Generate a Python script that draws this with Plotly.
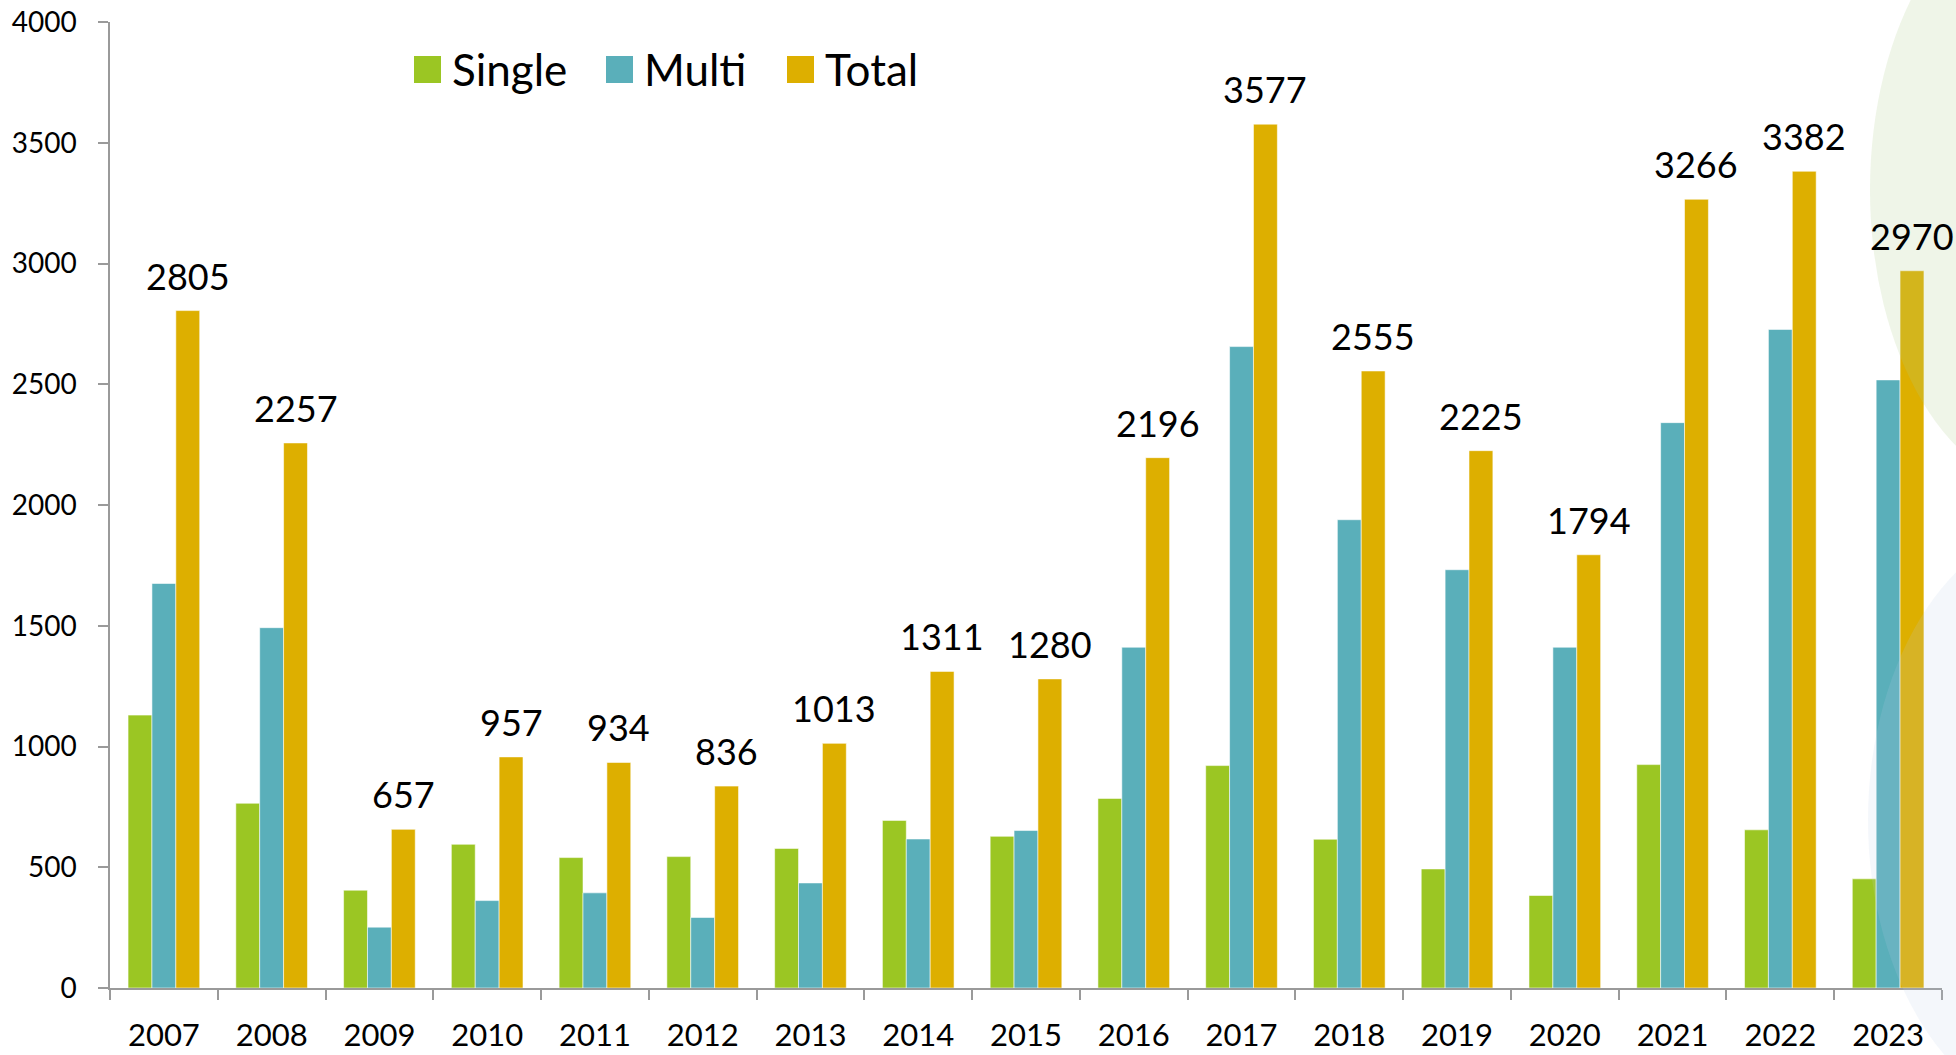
import plotly.graph_objects as go

# ---- data ----
years = [str(y) for y in range(2007, 2024)]
single = [1130, 765, 405, 595, 540, 544, 578, 694, 628, 785, 921, 616, 493, 383, 925, 655, 452]
multi = [1675, 1492, 252, 362, 394, 292, 435, 617, 652, 1411, 2656, 1939, 1732, 1411, 2341, 2727, 2518]
total = [2805, 2257, 657, 957, 934, 836, 1013, 1311, 1280, 2196, 3577, 2555, 2225, 1794, 3266, 3382, 2970]
series_names = ["Single", "Multi", "Total"]
series_values = [single, multi, total]
series_colors = ["#9bc623", "#5aafba", "#ddaf00"]

# ---- layout geometry (pixels) ----
W, H = 1956, 1055
L, R, T, B = 110, 14, 22, 67
PW, PH = W - L - R, H - T - B
BARGAP = 0.335
FONT = "Lato, 'Open Sans', sans-serif"


def px(x, y):
    return (x - L) / PW, (H - B - y) / PH


fig = go.Figure()
for name, vals, col in zip(series_names, series_values, series_colors):
    fig.add_trace(go.Bar(
        x=years, y=vals, name=name, marker_color=col,
        marker_line=dict(color="rgba(255,255,255,0.55)", width=1),
        showlegend=False,
    ))

# total labels above the Total bars (x given as category index)
bar_w = PW / len(years) * (1 - BARGAP) / 3
annotations = []
for i, v in enumerate(total):
    annotations.append(dict(
        x=i, y=v, xref="x", yref="y", text=str(v), showarrow=False,
        xshift=bar_w, yanchor="bottom", yshift=11,
        font=dict(family=FONT, size=36, color="#000000"),
    ))

# manual legend (large square swatches)
shapes = []
legend_px = [414, 606, 787]
for name, col, lx in zip(series_names, series_colors, legend_px):
    x0, y0 = px(lx, 56)
    x1, y1 = px(lx + 27, 83)
    shapes.append(dict(type="rect", xref="paper", yref="paper",
                       x0=x0, x1=x1, y0=y1, y1=y0, fillcolor=col,
                       line=dict(width=0), layer="above"))
    tx, ty = px(lx + 36, 69)
    annotations.append(dict(x=tx, y=ty, xref="paper", yref="paper", text=name,
                            showarrow=False, xanchor="left", yanchor="middle",
                            font=dict(family=FONT, size=44, color="#000000")))

# decorative pale blobs on the right edge
gx0, gy0 = px(2050 - 180, 190 - 300)
gx1, gy1 = px(2050 + 180, 190 + 300)
shapes.append(dict(type="circle", xref="paper", yref="paper",
                   x0=gx0, x1=gx1, y0=gy1, y1=gy0,
                   fillcolor="rgba(175,205,140,0.2)", line=dict(width=0), layer="above"))
bx0, by0 = px(2070 - 202, 820 - 300)
bx1, by1 = px(2070 + 202, 820 + 300)
shapes.append(dict(type="circle", xref="paper", yref="paper",
                   x0=bx0, x1=bx1, y0=by1, y1=by0,
                   fillcolor="rgba(185,208,228,0.16)", line=dict(width=0), layer="above"))

axis_col = "#9a9a9a"
fig.update_layout(
    width=W, height=H, autosize=False,
    margin=dict(l=L, r=R, t=T, b=B, pad=0, autoexpand=False),
    paper_bgcolor="white", plot_bgcolor="white",
    barmode="group", bargap=BARGAP, bargroupgap=0,
    font=dict(family=FONT, color="#000000"),
    annotations=annotations, shapes=shapes,
    showlegend=False,
    xaxis=dict(type="category", categoryorder="array", categoryarray=years,
               range=[-0.5, len(years) - 0.5], autorange=False, automargin=False,
               tickson="boundaries", ticks="outside", ticklen=10, tickangle=0,
               tickcolor=axis_col, tickwidth=1.5, showline=True, linecolor=axis_col,
               linewidth=1.5, showgrid=False, tickfont=dict(size=31, family=FONT),
               ticklabelstandoff=19),
    yaxis=dict(range=[0, 4000], autorange=False, automargin=False, tickmode="linear",
               tick0=0, dtick=500, ticks="outside", ticklen=10, tickcolor=axis_col,
               tickwidth=1.5, showline=True, linecolor=axis_col, linewidth=1.5,
               showgrid=False, zeroline=False, tickfont=dict(size=28, family=FONT),
               ticklabelstandoff=16),
)

fig.write_html(
    "out.html",
    config={"displayModeBar": False},
    post_script="document.body.style.margin='0px';document.body.style.overflow='hidden';",
)
